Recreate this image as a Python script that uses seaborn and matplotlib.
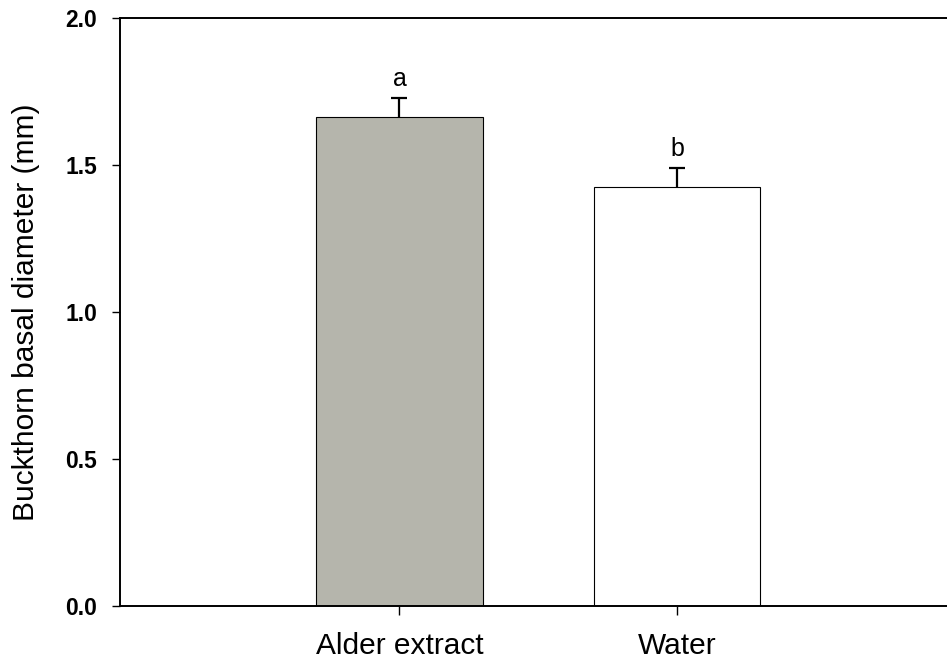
import matplotlib
matplotlib.use("Agg")
import matplotlib.pyplot as plt
import seaborn as sns
import pandas as pd

treatments = ["Alder extract", "Water"]
means = [1.662, 1.424]
se = [0.065, 0.065]
letters = ["a", "b"]
bar_colors = ["#b7b7aa", "#ffffff"]
yticks = [0.0, 0.5, 1.0, 1.5, 2.0]

sns.set_style("ticks")
plt.rcParams["font.family"] = ["Liberation Sans", "DejaVu Sans"]
plt.rcParams["text.color"] = "black"
plt.rcParams["axes.labelcolor"] = "black"
plt.rcParams["xtick.color"] = "black"
plt.rcParams["ytick.color"] = "black"

fig = plt.figure(figsize=(9.47, 6.64), dpi=100)
ax = fig.add_axes([120 / 947, 58 / 664, 827 / 947, 588 / 664])

df = pd.DataFrame({"treatment": treatments, "mean": means})
sns.barplot(data=df, x="treatment", y="mean", hue="treatment", palette=bar_colors,
            width=0.6, edgecolor="black", linewidth=0.8, legend=False, ax=ax)

# upper-only standard error bars
_, caps, _ = ax.errorbar(range(len(means)), means, yerr=[[0] * len(se), se], fmt="none",
                         ecolor="black", elinewidth=1.6, capsize=6, capthick=1.6)
caps[0].set_visible(False)

for i, (m, s, lab) in enumerate(zip(means, se, letters)):
    ax.annotate(lab, xy=(i, m + s), xytext=(0, 8.5), textcoords="offset points",
                ha="center", va="baseline", fontsize=18)

ax.set_xlim(-1.007, 1.973)
ax.set_ylim(0, 2.0)
ax.set_yticks(yticks)
ax.set_yticklabels([f"{v:.1f}" for v in yticks], fontsize=16.5, fontweight="bold")
ax.tick_params(axis="x", labelsize=21.5, length=6.5, width=1, pad=12)
ax.tick_params(axis="y", length=5.5, width=1, pad=11)
ax.set_xlabel("")
ax.set_ylabel("Buckthorn basal diameter (mm)", fontsize=21.5)
ax.yaxis.set_label_coords(-80 / 827, 0.5)

ax.spines["right"].set_visible(False)
for side in ["left", "bottom", "top"]:
    ax.spines[side].set_linewidth(1.4)
    ax.spines[side].set_color("black")

fig.savefig("out.png", dpi=100)
